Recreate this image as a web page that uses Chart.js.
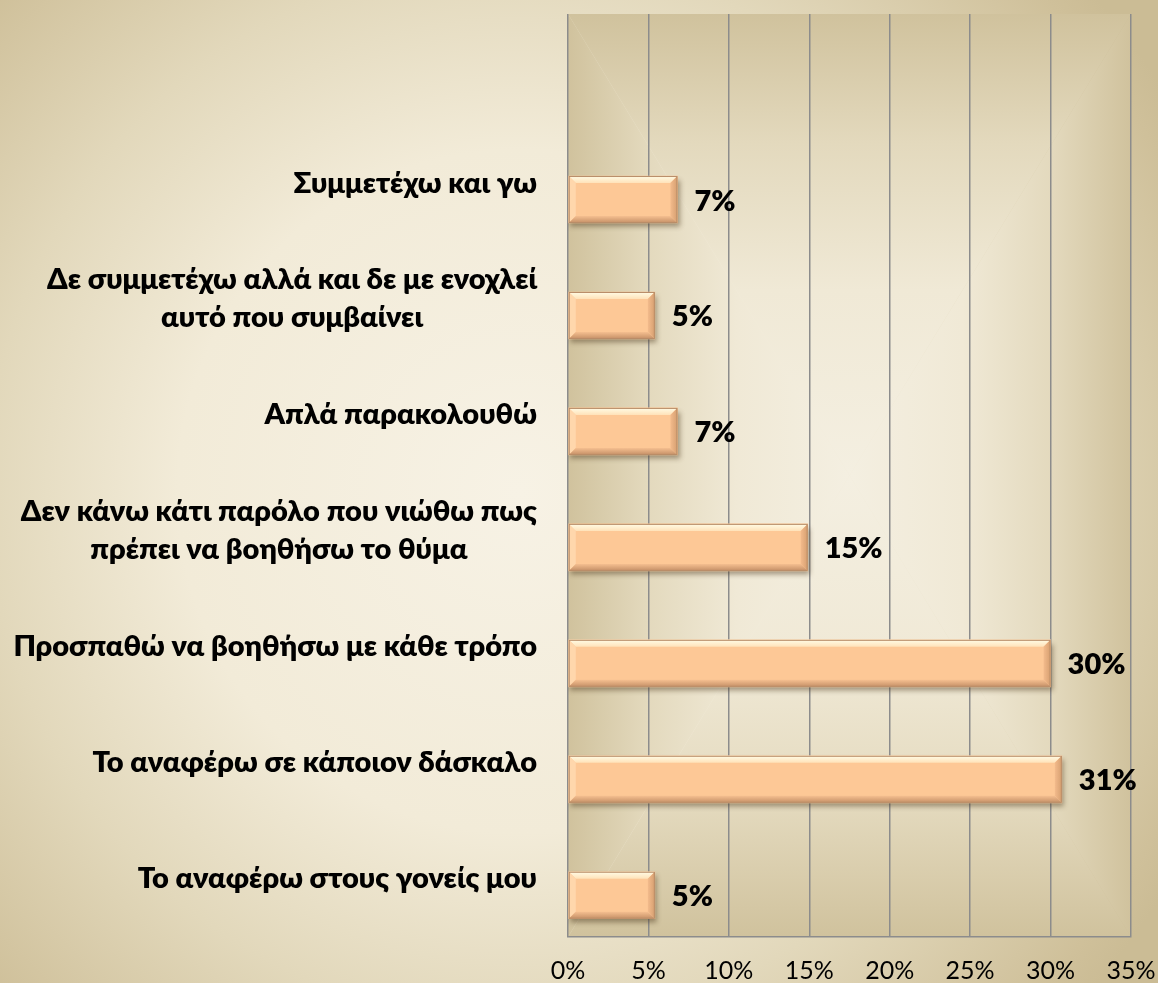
<!DOCTYPE html>
<html>
<head>
<meta charset="utf-8">
<script src="https://cdn.jsdelivr.net/npm/chart.js@4/dist/chart.umd.min.js"></script>
<style>
  html, body { margin: 0; padding: 0; background: #e6dcc2; }
  #c { display: block; }
</style>
</head>
<body>
<canvas id="c" width="1158" height="983"></canvas>
<script>
const categories = [
  'Συμμετέχω και γω',
  ['Δε συμμετέχω αλλά και δε με ενοχλεί', 'αυτό που συμβαίνει'],
  'Απλά παρακολουθώ',
  ['Δεν κάνω κάτι παρόλο που νιώθω πως', 'πρέπει να βοηθήσω το θύμα'],
  'Προσπαθώ να βοηθήσω με κάθε τρόπο',
  'Το αναφέρω σε κάποιον δάσκαλο',
  'Το αναφέρω στους γονείς μου'
];
const values = [6.8, 5.4, 6.8, 14.9, 30.0, 30.7, 5.4];
const valueLabels = ['7%', '5%', '7%', '15%', '30%', '31%', '5%'];
const xTickValues = [0, 5, 10, 15, 20, 25, 30, 35];

const FONT = 'Lato, "Open Sans", "Noto Sans", sans-serif';

function rectPathGradient(ctx, l, t, r, b, stops) {
  const cx = (l + r) / 2, cy = (t + b) / 2;
  const sides = [
    [[l, t], [l, b], [l, cy]],
    [[r, t], [r, b], [r, cy]],
    [[l, t], [r, t], [cx, t]],
    [[l, b], [r, b], [cx, b]]
  ];
  sides.forEach(([p1, p2, e]) => {
    const g = ctx.createLinearGradient(cx, cy, e[0], e[1]);
    stops.forEach(([o, c]) => g.addColorStop(o, c));
    ctx.beginPath();
    ctx.moveTo(cx, cy);
    ctx.lineTo(p1[0], p1[1]);
    ctx.lineTo(p2[0], p2[1]);
    ctx.closePath();
    ctx.fillStyle = g;
    ctx.fill();
  });
}

const decor = {
  id: 'decor',
  beforeDraw(chart) {
    const { ctx, width, height, chartArea: a } = chart;
    ctx.save();
    const cx = width / 2 - 60, cy = height / 2;
    const R = Math.sqrt((width / 2) * (width / 2) + cy * cy);
    const g = ctx.createRadialGradient(cx, cy, 0, cx, cy, R);
    g.addColorStop(0, '#f7f2e5');
    g.addColorStop(0.45, '#f2ebd8');
    g.addColorStop(0.7, '#e2d8bb');
    g.addColorStop(0.95, '#cfc09a');
    g.addColorStop(1, '#cbbc95');
    ctx.fillStyle = g;
    ctx.fillRect(0, 0, width, height);
    rectPathGradient(ctx, a.left, a.top, a.right, a.bottom, [
      [0, '#f4efe1'], [0.4, '#f0e9d6'], [0.72, '#e3d9bd'], [1, '#d0c29d']
    ]);
    ctx.restore();
  },
  beforeDatasetsDraw(chart) {
    const ctx = chart.ctx;
    ctx.save();
    ctx.shadowColor = 'rgba(70,50,25,0.45)';
    ctx.shadowOffsetX = 2;
    ctx.shadowOffsetY = 4;
    ctx.shadowBlur = 5;
  },
  afterDatasetsDraw(chart) {
    const ctx = chart.ctx;
    ctx.restore();
    const meta = chart.getDatasetMeta(0);
    const yScale = chart.scales.y;
    meta.data.forEach((el, i) => {
      const p = el.getProps(['x', 'y', 'base', 'height'], true);
      const x0 = Math.min(p.base, p.x), x1 = Math.max(p.base, p.x);
      const yT = p.y - p.height / 2, yB = p.y + p.height / 2;
      const b = 7;
      ctx.save();
      let g = ctx.createLinearGradient(0, yT, 0, yT + b);
      g.addColorStop(0, '#fffce6');
      g.addColorStop(1, '#ffe2b9');
      ctx.beginPath();
      ctx.moveTo(x0, yT); ctx.lineTo(x1, yT); ctx.lineTo(x1 - b, yT + b); ctx.lineTo(x0 + b, yT + b); ctx.closePath();
      ctx.fillStyle = g; ctx.fill();
      ctx.beginPath();
      ctx.moveTo(x0, yT); ctx.lineTo(x0 + b, yT + b); ctx.lineTo(x0 + b, yB - b); ctx.lineTo(x0, yB); ctx.closePath();
      ctx.fillStyle = '#ffd7ac'; ctx.fill();
      g = ctx.createLinearGradient(x1 - b, 0, x1, 0);
      g.addColorStop(0, '#f3bb8c');
      g.addColorStop(1, '#d69f70');
      ctx.beginPath();
      ctx.moveTo(x1, yT); ctx.lineTo(x1, yB); ctx.lineTo(x1 - b, yB - b); ctx.lineTo(x1 - b, yT + b); ctx.closePath();
      ctx.fillStyle = g; ctx.fill();
      g = ctx.createLinearGradient(0, yB - b, 0, yB);
      g.addColorStop(0, '#f5bf90');
      g.addColorStop(1, '#c48f66');
      ctx.beginPath();
      ctx.moveTo(x0, yB); ctx.lineTo(x1, yB); ctx.lineTo(x1 - b, yB - b); ctx.lineTo(x0 + b, yB - b); ctx.closePath();
      ctx.fillStyle = g; ctx.fill();
      ctx.strokeStyle = '#b98d68';
      ctx.lineWidth = 1;
      ctx.strokeRect(x0 + 0.5, yT + 0.5, x1 - x0 - 1, yB - yT - 1);
      ctx.restore();

      ctx.save();
      ctx.font = '800 29px ' + FONT;
      ctx.fillStyle = '#000';
      ctx.textAlign = 'left';
      ctx.textBaseline = 'alphabetic';
      ctx.fillText(valueLabels[i], x1 + 17, p.y + 11);
      ctx.restore();
    });

    ctx.save();
    ctx.font = '800 29px ' + FONT;
    ctx.fillStyle = '#000';
    ctx.textAlign = 'center';
    ctx.textBaseline = 'alphabetic';
    const rightEdge = 537;
    const lineH = 38;
    categories.forEach((lab, i) => {
      const lines = Array.isArray(lab) ? lab : [lab];
      const maxW = Math.max(...lines.map(s => ctx.measureText(s).width));
      const cxl = rightEdge - maxW / 2;
      const base = yScale.getPixelForValue(i) - 7;
      lines.forEach((s, k) => {
        ctx.fillText(s, cxl, base + (k - (lines.length - 1) / 2) * lineH);
      });
    });
    ctx.restore();
  }
};

new Chart(document.getElementById('c'), {
  type: 'bar',
  data: {
    labels: categories,
    datasets: [{
      data: values.map((v, i) => ({ x: v, y: i })),
      backgroundColor: '#fdc896',
      borderWidth: 0,
      barThickness: 47
    }]
  },
  options: {
    indexAxis: 'y',
    responsive: false,
    animation: false,
    devicePixelRatio: 1,
    layout: { padding: { top: 14, right: 27, left: 0, bottom: 0 } },
    plugins: { legend: { display: false }, tooltip: { enabled: false } },
    scales: {
      x: {
        type: 'linear',
        min: 0,
        max: 35,
        afterBuildTicks: s => { s.ticks = xTickValues.map(v => ({ value: v })); },
        ticks: {
          callback: v => v + '%',
          font: { family: FONT, size: 25 },
          color: '#000',
          padding: 19,
          maxRotation: 0,
          autoSkip: false
        },
        grid: { color: '#8c8c8c', lineWidth: 1.5, drawTicks: false },
        border: { display: true, color: '#8c8c8c', width: 1.5 },
        afterFit: s => { s.height = 46; s.paddingLeft = 0; s.paddingRight = 0; }
      },
      y: {
        type: 'linear',
        reverse: true,
        offset: false,
        min: -1.6,
        max: 6.36,
        ticks: { display: false },
        grid: { display: false, offset: false },
        border: { display: false },
        afterFit: s => { s.width = 568; s.paddingTop = 0; s.paddingBottom = 0; }
      }
    }
  },
  plugins: [decor]
});
</script>
</body>
</html>
